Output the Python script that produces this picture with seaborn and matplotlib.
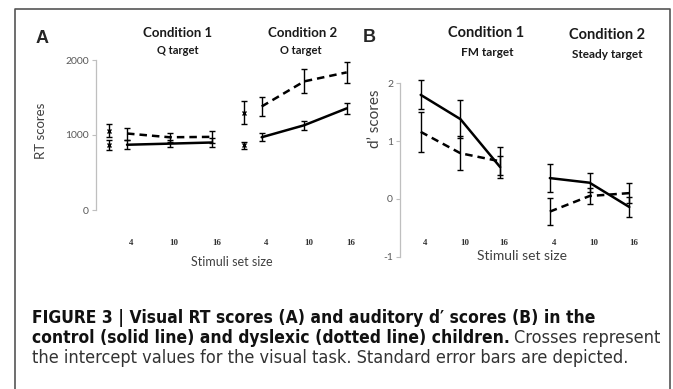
import numpy as np
import pandas as pd
import matplotlib
matplotlib.use("Agg")
import matplotlib.pyplot as plt
import seaborn as sns
from matplotlib import font_manager
from matplotlib.transforms import blended_transform_factory
from matplotlib.lines import Line2D

# ---------------- data ----------------
set_sizes = [4, 10, 16]
set_labels = ["4", "10", "16"]

# Panel A: visual RT scores
rt_c1_control = [870, 885, 900]
rt_c1_control_se = [60, 50, 55]
rt_c1_dyslexic = [1020, 970, 975]
rt_c1_dyslexic_se = [80, 60, 80]
rt_c2_control = [970, 1130, 1355]
rt_c2_control_se = [55, 60, 75]
rt_c2_dyslexic = [1380, 1715, 1835]
rt_c2_dyslexic_se = [130, 160, 135]
# intercepts (crosses): [condition 1, condition 2]
rt_int_control = [870, 865]
rt_int_control_se = [65, 45]
rt_int_dyslexic = [1060, 1300]
rt_int_dyslexic_se = [85, 148]

# Panel B: auditory d' scores
d_c1_control = [1.80, 1.38, 0.55]
d_c1_control_se = [0.25, 0.33, 0.19]
d_c1_dyslexic = [1.16, 0.79, 0.65]
d_c1_dyslexic_se = [0.34, 0.29, 0.24]
d_c2_control = [0.36, 0.28, -0.14]
d_c2_control_se = [0.24, 0.16, 0.18]
d_c2_dyslexic = [-0.22, 0.05, 0.10]
d_c2_dyslexic_se = [0.24, 0.14, 0.17]

rt_yticks = [0, 1000, 2000]
d_yticks = [-1, 0, 1, 2]

# ---------------- layout helpers ----------------
W, H = 673, 389
INT_POS = 1.5          # where the intercept cross sits on the set-size scale
OFF_A = 19.0           # horizontal shift of condition 2 in panel A
OFF_B = 19.5           # horizontal shift of condition 2 in panel B

sns.set_theme(style="white")
plt.rcParams["font.family"] = ["Lato", "DejaVu Sans"]

fig = plt.figure(figsize=(W / 100, H / 100), dpi=100)


def fx(px):
    return px / W


def fy(py):
    return 1 - py / H


def build(c1c, c1cs, c1d, c1ds, c2c, c2cs, c2d, c2ds, off):
    rows = []
    for cond, ctrl, ctrl_se, dys, dys_se, shift in [
        ("c1", c1c, c1cs, c1d, c1ds, 0.0),
        ("c2", c2c, c2cs, c2d, c2ds, off),
    ]:
        for s, v, e in zip(set_sizes, ctrl, ctrl_se):
            rows.append(dict(pos=s + shift, score=v, se=e, group="Control", cond=cond))
        for s, v, e in zip(set_sizes, dys, dys_se):
            rows.append(dict(pos=s + shift, score=v, se=e, group="Dyslexic", cond=cond))
    return pd.DataFrame(rows)


dfA = build(rt_c1_control, rt_c1_control_se, rt_c1_dyslexic, rt_c1_dyslexic_se,
            rt_c2_control, rt_c2_control_se, rt_c2_dyslexic, rt_c2_dyslexic_se, OFF_A)
dfB = build(d_c1_control, d_c1_control_se, d_c1_dyslexic, d_c1_dyslexic_se,
            d_c2_control, d_c2_control_se, d_c2_dyslexic, d_c2_dyslexic_se, OFF_B)

GRAY_SPINE = "#bfbfbf"
TXT = "#404040"


def style_axis(ax, ylim, yticks):
    ax.set_ylim(*ylim)
    ax.set_yticks(yticks)
    ax.set_yticklabels([str(t) for t in yticks], fontsize=7.5, color="#595959",
                       family=["Lato", "DejaVu Sans"])
    ax.set_xticks([])
    for s in ["top", "right", "bottom"]:
        ax.spines[s].set_visible(False)
    ax.spines["left"].set_color(GRAY_SPINE)
    ax.spines["left"].set_linewidth(0.9)
    ax.tick_params(axis="y", length=3, width=0.8, color=GRAY_SPINE, pad=2, left=True)
    ax.patch.set_alpha(0)
    ax.set_xlabel("")
    ax.set_ylabel("")


def draw_panel(ax, df):
    sns.lineplot(data=df, x="pos", y="score", style="group", units="cond",
                 estimator=None, color="black", linewidth=1.8,
                 dashes={"Control": "", "Dyslexic": (3, 2)},
                 legend=False, ax=ax, clip_on=False)
    ax.errorbar(df["pos"], df["score"], yerr=df["se"], fmt="none", ecolor="black",
                elinewidth=1.0, capsize=2.5, capthick=1.0, clip_on=False)


# ---------------- panel A ----------------
axA = fig.add_axes([fx(96), fy(210), fx(360) - fx(96), fy(60) - fy(210)])
pxA = (346.7 - 109.3) / (OFF_A + 16 - INT_POS)
axA.set_xlim(INT_POS - 13.3 / pxA, OFF_A + 16 + 13.3 / pxA)
draw_panel(axA, dfA)
int_pos = [INT_POS, INT_POS + OFF_A]
axA.errorbar(int_pos, rt_int_control, yerr=rt_int_control_se, fmt="x", ms=3.5, mew=1.0,
             color="black", elinewidth=1.0, capsize=2.5, capthick=1.0)
axA.errorbar(int_pos, rt_int_dyslexic, yerr=rt_int_dyslexic_se, fmt="x", ms=3.5, mew=1.0,
             color="black", elinewidth=1.0, capsize=2.5, capthick=1.0)
style_axis(axA, (0, 2000), rt_yticks)

# ---------------- panel B ----------------
axB = fig.add_axes([fx(400), fy(256.7), fx(660) - fx(400), fy(83.3) - fy(256.7)])
pxB = (629.3 - 420.7) / (OFF_B + 12)
axB.set_xlim(4 - 20.7 / pxB, OFF_B + 16 + 30.7 / pxB)
draw_panel(axB, dfB)
style_axis(axB, (-1, 2), d_yticks)

# ---------------- category labels ----------------
for ax, off in [(axA, OFF_A), (axB, OFF_B)]:
    tr = blended_transform_factory(ax.transData, fig.transFigure)
    for shift in (0.0, off):
        for s, lab in zip(set_sizes, set_labels):
            ax.text(s + shift + 0.6, fy(243), lab, transform=tr, ha="center", va="center",
                    fontsize=6.5, fontweight="bold", family="Liberation Serif", color="#333333")

# ---------------- texts ----------------
def ftext(x, y, s, **kw):
    fig.text(fx(x), fy(y), s, **kw)

ftext(36, 43, "A", fontsize=13, fontweight="bold", family="Liberation Sans", va="baseline")
ftext(363, 42, "B", fontsize=13, fontweight="bold", family="Liberation Sans", va="baseline")

ftext(178, 33, "Condition 1", fontsize=9.5, fontweight="bold", ha="center", va="center", color="#1a1a1a")
ftext(178, 51, "Q target", fontsize=8, fontweight="bold", ha="center", va="center", color="#1a1a1a")
ftext(303, 33, "Condition 2", fontsize=9.5, fontweight="bold", ha="center", va="center", color="#1a1a1a")
ftext(301, 51, "O target", fontsize=8, fontweight="bold", ha="center", va="center", color="#1a1a1a")

ftext(486, 33, "Condition 1", fontsize=10.5, fontweight="bold", ha="center", va="center", color="#1a1a1a")
ftext(487, 52, "FM target", fontsize=8.5, fontweight="bold", ha="center", va="center", color="#1a1a1a")
ftext(607, 35, "Condition 2", fontsize=10.5, fontweight="bold", ha="center", va="center", color="#1a1a1a")
ftext(607, 54, "Steady target", fontsize=8.5, fontweight="bold", ha="center", va="center", color="#1a1a1a")

ftext(41, 131, "RT scores", fontsize=9.5, rotation=90, ha="center", va="center", color=TXT)
ftext(375, 119, "d\u2019 scores", fontsize=11, rotation=90, ha="center", va="center", color=TXT)
ftext(232, 262, "Stimuli set size", fontsize=9, ha="center", va="center", color=TXT)
ftext(522, 256, "Stimuli set size", fontsize=10, ha="center", va="center", color=TXT)

# ---------------- frame ----------------
fig.add_artist(Line2D([fx(15), fx(15), fx(669.5), fx(669.5)],
                      [0, fy(8.5), fy(8.5), 0], transform=fig.transFigure,
                      color="#555555", linewidth=1.2))

# ---------------- caption ----------------
cap_kw = dict(family="Liberation Sans")
for f in font_manager.fontManager.ttflist:
    if f.name == "Liberation Sans Narrow":
        cap_kw = dict(family="Liberation Sans Narrow")
        break
else:
    for f in font_manager.fontManager.ttflist:
        if f.name == "DejaVu Sans" and str(f.stretch) in ("condensed", "semi-condensed"):
            cap_kw = dict(family="DejaVu Sans", fontstretch="condensed")
            break

fig.canvas.draw()
renderer = fig.canvas.get_renderer()


def fit_text(x, y, s, target_w, weight, size0=12):
    t = fig.text(fx(x), fy(y), s, fontsize=size0, fontweight=weight,
                 va="baseline", color="#111111" if weight == "bold" else "#333333", **cap_kw)
    w = t.get_window_extent(renderer).width
    t.set_fontsize(size0 * target_w / w)
    return t


l1 = fit_text(32, 323, "FIGURE 3 | Visual RT scores (A) and auditory d\u2032 scores (B) in the", 592 - 32, "bold")
size_b = l1.get_fontsize()
l2a = fig.text(fx(32), fy(343), "control (solid line) and dyslexic (dotted line) children.",
               fontsize=size_b, fontweight="bold", va="baseline", color="#111111", **cap_kw)
w2a = l2a.get_window_extent(renderer).width
l3 = fit_text(32, 363, "the intercept values for the visual task. Standard error bars are depicted.",
              628 - 32, "normal")
size_n = l3.get_fontsize()
fig.text(fx(32 + w2a + 4), fy(343), "Crosses represent", fontsize=size_n,
         va="baseline", color="#333333", **cap_kw)

fig.savefig("out.png", dpi=100)
